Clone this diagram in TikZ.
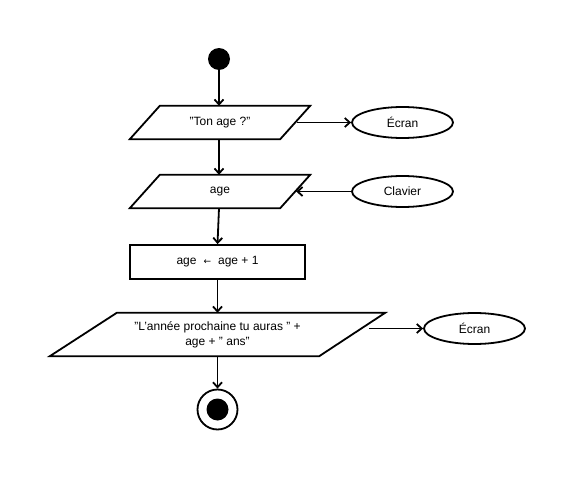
\documentclass[tikz,border=0pt]{standalone}
\usepackage{fontspec}
\setmainfont{Liberation Sans}
\newfontfamily\dejavu{DejaVu Sans}
\usetikzlibrary{shapes.geometric,arrows.meta,calc}
\begin{document}
\begin{tikzpicture}[x=1pt,y=-1pt,
  every node/.style={font=\fontsize{12}{15}\selectfont},
  line/.style={line width=1.8pt},
  flow/.style={line, -{Straight Barb[length=5pt,width=9pt,line width=1.8pt]}},
  box/.style={minimum height=33pt, inner sep=0pt, align=center},
  term/.style={ellipse, draw, line width=1.8pt, minimum width=101pt, minimum height=31pt, inner sep=0pt}
]
\useasboundingbox (0,0) rectangle (574,479);
% start
\node[circle, fill=black, minimum size=22pt, inner sep=0pt] (start) at (219,59) {};
% parallelogram 1
\node[box, minimum width=180pt] (p1) at (220,122.5) {"Ton age ?"};
\draw[line] (p1.south west) -- ($(p1.north west)+(30,0)$) -- (p1.north east) -- ($(p1.south east)+(-30,0)$) -- cycle;
\node[term] (e1) at (402.5,122.5) {Écran};
% parallelogram 2
\node[box, minimum width=180pt] (p2) at (220,191.5) {age};
\draw[line] (p2.south west) -- ($(p2.north west)+(30,0)$) -- (p2.north east) -- ($(p2.south east)+(-30,0)$) -- cycle;
\node[term] (c1) at (402.5,191.5) {Clavier};
% rectangle
\node[box, draw, line width=1.8pt, minimum width=175pt, minimum height=34pt] (r1) at (217.5,262) {age\hspace{7pt}{\dejavu\fontsize{9}{11}\selectfont ←}\hspace{7pt}age + 1};
% parallelogram 3
\node[box, minimum width=335pt, minimum height=43pt] (p3) at (217.5,334.5) {"L'année prochaine tu auras " +\\age + " ans"};
\draw[line] (p3.south west) -- ($(p3.north west)+(67,0)$) -- (p3.north east) -- ($(p3.south east)+(-66,0)$) -- cycle;
\node[term] (e3) at (474.5,328.5) {Écran};
% end
\node[circle, draw, line width=1.8pt, minimum size=40pt, inner sep=0pt] (end) at (217.5,409.5) {};
\node[circle, fill=black, minimum size=22pt, inner sep=0pt] (endin) at (217.5,409.5) {};
% connectors
\draw[flow] (start.south) -- (p1.north -| start.south);
\draw[flow] (p1.south -| start.south) -- (p2.north -| start.south);
\draw[flow] (p2.south -| start.south) -- (r1.north);
\draw[flow] (r1.south) -- (p3.north -| r1.south);
\draw[flow] (p3.south -| r1.south) -- (end.north);
\draw[flow] ($(p1.east)+(-13,0)$) -- (e1.west);
\draw[flow] (c1.west) -- ($(p2.east)+(-14,0)$);
\draw[flow] ($(p3.east)+(-16,-6)$) -- (e3.west);
\end{tikzpicture}
\end{document}
